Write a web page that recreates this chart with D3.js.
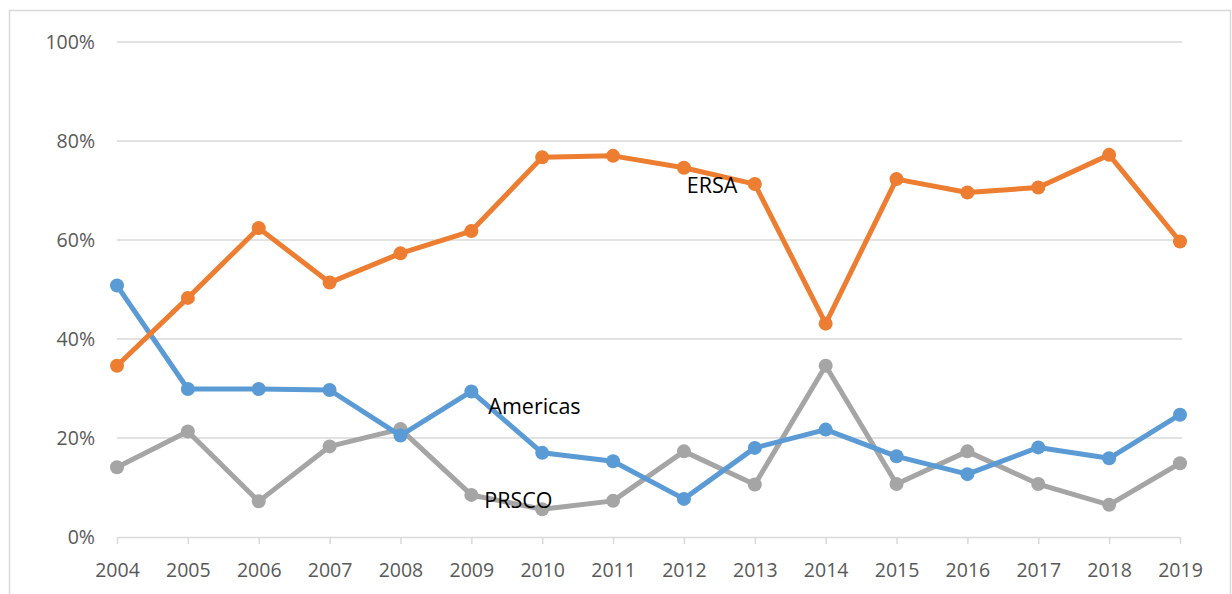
<!doctype html>
<html lang="en">
<head>
<meta charset="UTF-8">
<title>ERSA, Americas, PRSCO 2004-2019</title>
<script src="https://d3js.org/d3.v7.min.js"></script>
<style>
  body { margin: 0; background: #fff; }
  svg { display: block; font-family: "Open Sans", "Liberation Sans", sans-serif; }
</style>
</head>
<body>
<svg id="chart" width="1232" height="594"></svg>
<script>
const years = ["2004","2005","2006","2007","2008","2009","2010","2011","2012","2013","2014","2015","2016","2017","2018","2019"];
const ersa     = [34.6, 48.3, 62.4, 51.4, 57.3, 61.8, 76.7, 77.0, 74.6, 71.3, 43.1, 72.3, 69.6, 70.6, 77.2, 59.7];
const americas = [50.8, 29.9, 29.9, 29.7, 20.5, 29.4, 17.0, 15.3, 7.7, 18.0, 21.7, 16.3, 12.7, 18.1, 15.9, 24.7];
const prsco    = [14.1, 21.3, 7.2, 18.3, 21.8, 8.5, 5.6, 7.3, 17.3, 10.6, 34.6, 10.7, 17.3, 10.7, 6.5, 14.9];
const yTicks = [0, 20, 40, 60, 80, 100];

// where each series name sits: next to the point of year index "at"
const series = [
  { name: "PRSCO", values: prsco, color: "#a5a5a5", label: { at: 5, dx: 13, dy: 5 } },
  { name: "Americas", values: americas, color: "#5b9bd5", label: { at: 5, dx: 17, dy: 15 } },
  { name: "ERSA", values: ersa, color: "#ed7d31", label: { at: 9, dx: -68, dy: 1 } }
];

const svg = d3.select("#chart");
const mLeft = 117, mRight = 1180, mTop = 42, mBottom = 537;

// outer chart border
svg.append("rect")
  .attr("x", 9.5).attr("y", 10.5)
  .attr("width", 1221).attr("height", 600)
  .attr("fill", "none").attr("stroke", "#d9d9d9").attr("stroke-width", 1.5);

const x = d3.scalePoint().domain(years).range([mLeft, mRight]);
const y = d3.scaleLinear().domain([0, 100]).range([mBottom, mTop]);

// gridlines
svg.append("g")
  .selectAll("line")
  .data(yTicks.filter(d => d > 0))
  .join("line")
  .attr("x1", mLeft).attr("x2", mRight + 2)
  .attr("y1", d => y(d)).attr("y2", d => y(d))
  .attr("stroke", "#d9d9d9").attr("stroke-width", 1.5);

// y labels
svg.append("g")
  .selectAll("text")
  .data(yTicks)
  .join("text")
  .attr("x", 95).attr("y", d => y(d))
  .attr("dy", "0.36em")
  .attr("text-anchor", "end")
  .attr("font-size", 19.5)
  .attr("fill", "#595959")
  .text(d => d + "%");

// x axis
const xAxis = svg.append("g")
  .attr("transform", `translate(0,${mBottom})`)
  .call(d3.axisBottom(x).tickSize(7).tickPadding(19).tickSizeOuter(0));
xAxis.select(".domain").attr("stroke", "#d9d9d9").attr("stroke-width", 1.5);
xAxis.selectAll(".tick line").attr("stroke", "#d9d9d9").attr("stroke-width", 1.5);
xAxis.selectAll(".tick text")
  .attr("font-size", 19.5)
  .attr("fill", "#595959")
  .attr("font-family", "\"Open Sans\", \"Liberation Sans\", sans-serif");

const line = d3.line()
  .x((d, i) => x(years[i]))
  .y(d => y(d));

series.forEach(s => {
  const g = svg.append("g");
  g.append("path")
    .datum(s.values)
    .attr("d", line)
    .attr("fill", "none")
    .attr("stroke", s.color)
    .attr("stroke-width", 5)
    .attr("stroke-linejoin", "round");
  g.selectAll("circle")
    .data(s.values)
    .join("circle")
    .attr("cx", (d, i) => x(years[i]))
    .attr("cy", d => y(d))
    .attr("r", 7)
    .attr("fill", s.color);
});

// series labels
series.forEach(s => {
  const i = s.label.at;
  svg.append("text")
    .attr("x", x(years[i]) + s.label.dx)
    .attr("y", y(s.values[i]) + s.label.dy)
    .attr("dy", "0.36em")
    .attr("font-size", 21.5)
    .attr("fill", "#000")
    .text(s.name);
});
</script>
</body>
</html>
